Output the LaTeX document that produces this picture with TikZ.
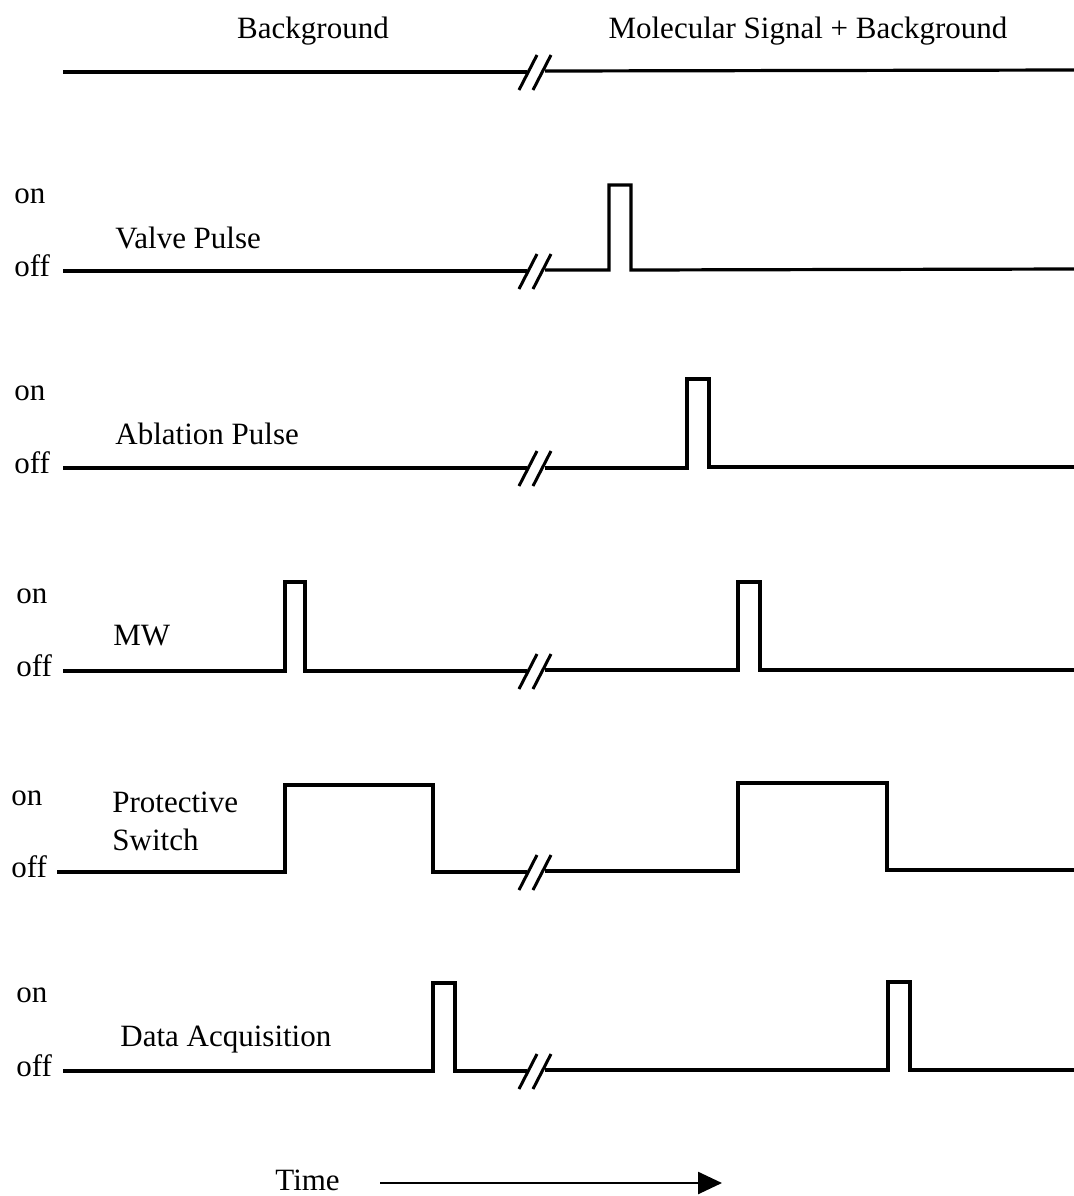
\documentclass[tikz,border=0pt]{standalone}
\usepackage{fontspec}
\setmainfont{Liberation Serif}
\usetikzlibrary{arrows.meta}
\begin{document}
\begin{tikzpicture}[x=0.5pt,y=-0.5pt,
  wave/.style={line width=1.6pt, line join=miter},
  slash/.style={line width=1.5pt},
  txt/.style={inner sep=0pt, font=\fontsize{15.5}{18}\selectfont},
  lbl/.style={txt, anchor=base west},
  hdr/.style={txt, anchor=base}]
\useasboundingbox (0,0) rectangle (1074,1196);

% time-axis break mark (two slashes) on a trace at height #1
\newcommand\axisbreak[1]{%
  \draw[slash] (519,{#1+18}) -- (537,{#1-17});
  \draw[slash] (533,{#1+18}) -- (551,{#1-17});}

% headings
\node[hdr] (bg)  at (313,38) {Background};
\node[hdr] (sig) at (808,38) {Molecular Signal + Background};
\draw[wave] (63,72) -- (527,72);
\draw[wave] (545,71) -- (1074,70);
\axisbreak{72}

% valve pulse
\node[lbl] (on1)  at (14,203) {on};
\node[lbl] (off1) at (14,276) {off};
\node[lbl] (t1)   at (115,248) {Valve Pulse};
\draw[wave] (63,271) -- (527,271);
\draw[wave] (545,270) -- (609,270) -- (609,185) -- (631,185) -- (631,270) -- (1074,269);
\axisbreak{271}

% ablation pulse
\node[lbl] (on2)  at (14,400) {on};
\node[lbl] (off2) at (14,473) {off};
\node[lbl] (t2)   at (115,444) {Ablation Pulse};
\draw[wave] (63,468) -- (527,468);
\draw[wave] (545,468) -- (687,468) -- (687,379) -- (709,379) -- (709,467) -- (1074,467);
\axisbreak{468}

% microwave pulse
\node[lbl] (on3)  at (16,603) {on};
\node[lbl] (off3) at (16,676) {off};
\node[lbl] (t3)   at (113,645) {MW};
\draw[wave] (63,671) -- (285,671) -- (285,582) -- (305,582) -- (305,671) -- (527,671);
\draw[wave] (545,670) -- (738,670) -- (738,582) -- (760,582) -- (760,670) -- (1074,670);
\axisbreak{671}

% protective switch
\node[lbl] (on4)  at (11,805) {on};
\node[lbl] (off4) at (11,877) {off};
\node[lbl] (t4a)  at (112,812) {Protective};
\node[lbl] (t4b)  at (112,850) {Switch};
\draw[wave] (57,872) -- (285,872) -- (285,785) -- (433,785) -- (433,872) -- (527,872);
\draw[wave] (545,871) -- (738,871) -- (738,783) -- (887,783) -- (887,870) -- (1074,870);
\axisbreak{872}

% data acquisition
\node[lbl] (on5)  at (16,1002) {on};
\node[lbl] (off5) at (16,1076) {off};
\node[lbl] (t5)   at (120,1046) {Data Acquisition};
\draw[wave] (63,1071) -- (433,1071) -- (433,983) -- (455,983) -- (455,1071) -- (527,1071);
\draw[wave] (545,1070) -- (888,1070) -- (888,982) -- (910,982) -- (910,1070) -- (1074,1070);
\axisbreak{1071}

% time arrow
\node[lbl] (time) at (275,1190) {Time};
\coordinate (ta) at (380,1183);
\coordinate (tb) at (722,1183);
\draw[line width=1.3pt, -{Triangle[length=12pt,width=11pt]}] (ta) -- (tb);
\end{tikzpicture}
\end{document}
